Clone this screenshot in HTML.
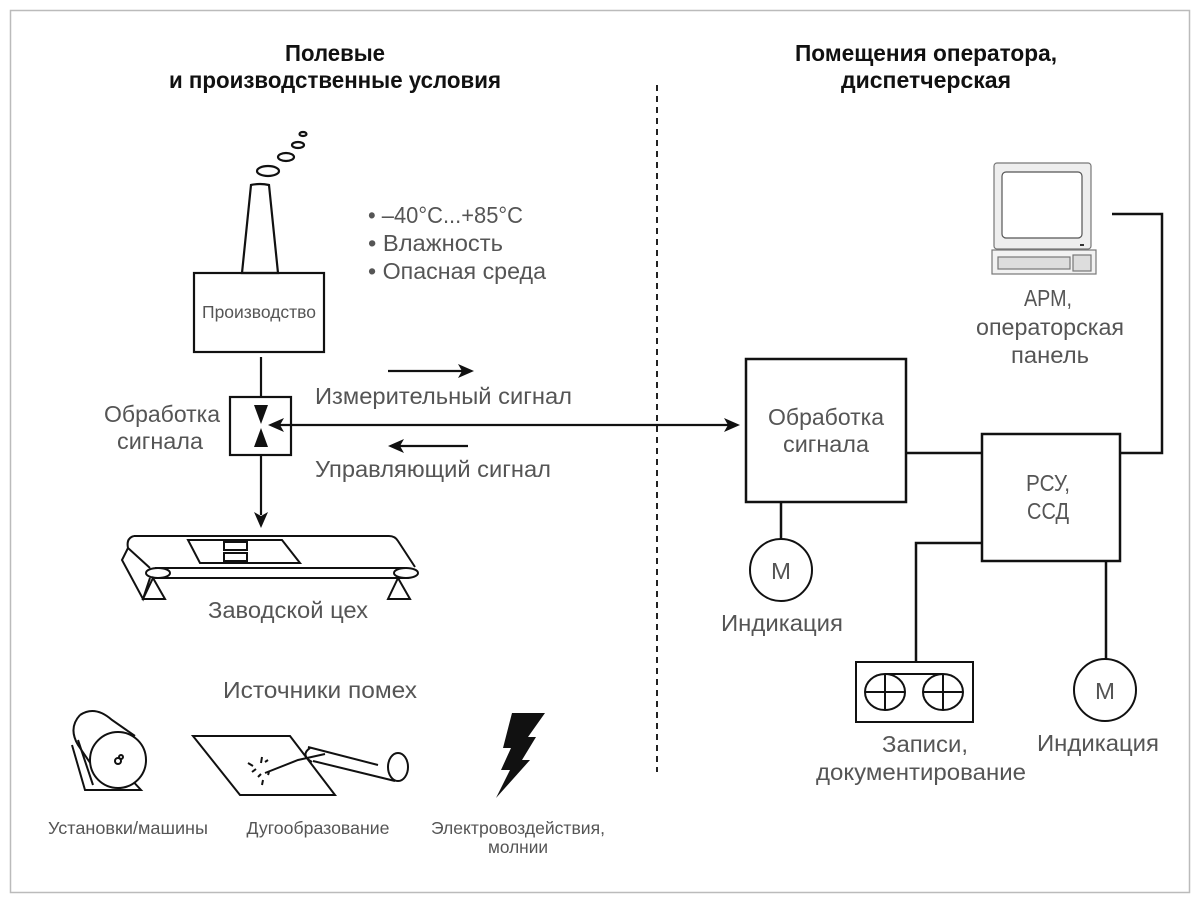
<!DOCTYPE html>
<html><head><meta charset="utf-8"><style>
html,body{margin:0;padding:0;background:#fff;}
svg{display:block;}
text{font-family:"Liberation Sans","DejaVu Sans",sans-serif;fill:#555;}
.h{fill:#111;font-weight:bold;font-size:23px;}
</style></head><body>
<svg width="1200" height="903" viewBox="0 0 1200 903" xmlns="http://www.w3.org/2000/svg">
<rect x="10.5" y="10.5" width="1179" height="882" fill="none" stroke="#bbb" stroke-width="1.5"/>
<g text-anchor="middle">
<text class="h" x="335" y="61" textLength="100" lengthAdjust="spacingAndGlyphs">Полевые</text>
<text class="h" x="335" y="88" textLength="332" lengthAdjust="spacingAndGlyphs">и производственные условия</text>
<text class="h" x="926" y="61" textLength="262" lengthAdjust="spacingAndGlyphs">Помещения оператора,</text>
<text class="h" x="926" y="88" textLength="170" lengthAdjust="spacingAndGlyphs">диспетчерская</text>
</g>
<line x1="657" y1="85" x2="657" y2="772" stroke="#222" stroke-width="2" stroke-dasharray="6,5"/>
<g fill="none" stroke="#111" stroke-width="2.2">
<ellipse cx="268" cy="171" rx="11" ry="5"/>
<ellipse cx="286" cy="157" rx="8" ry="4"/>
<ellipse cx="298" cy="145" rx="6" ry="3"/>
<ellipse cx="303" cy="134" rx="3.5" ry="2"/>
<path d="M251 185 Q260 183 269 185 L278 273 L242 273 Z"/>
<rect x="194" y="273" width="130" height="79"/>
<line x1="261" y1="357" x2="261" y2="397"/>
<rect x="230" y="397" width="61" height="58"/>
<line x1="261" y1="455" x2="261" y2="515"/>
<line x1="274" y1="425" x2="728" y2="425"/>
<line x1="388" y1="371" x2="462" y2="371"/>
<line x1="398" y1="446" x2="468" y2="446"/>
</g>
<g fill="#111">
<path d="M254 405 L268 405 L261 424 Z"/>
<path d="M261 428 L268 447 L254 447 Z"/>
<path d="M268 425 L284 418 L280 425 L284 432 Z"/>
<path d="M261 528 L254 512 L261 516 L268 512 Z"/>
<path d="M740 425 L724 418 L728 425 L724 432 Z"/>
<path d="M474 371 L458 364 L462 371 L458 378 Z"/>
<path d="M388 446 L404 439 L400 446 L404 453 Z"/>
</g>
<text x="259" y="318" text-anchor="middle" font-size="17.5" textLength="114" lengthAdjust="spacingAndGlyphs">Производство</text>
<text x="220" y="422" text-anchor="end" font-size="23" textLength="116" lengthAdjust="spacingAndGlyphs">Обработка</text>
<text x="203" y="449" text-anchor="end" font-size="23" textLength="86" lengthAdjust="spacingAndGlyphs">сигнала</text>
<text x="315" y="404" font-size="23" textLength="257" lengthAdjust="spacingAndGlyphs">Измерительный сигнал</text>
<text x="315" y="477" font-size="23" textLength="236" lengthAdjust="spacingAndGlyphs">Управляющий сигнал</text>
<text x="368" y="223" font-size="23" textLength="155" lengthAdjust="spacingAndGlyphs">• –40°C...+85°C</text>
<text x="368" y="251" font-size="23" textLength="135" lengthAdjust="spacingAndGlyphs">• Влажность</text>
<text x="368" y="279" font-size="23" textLength="178" lengthAdjust="spacingAndGlyphs">• Опасная среда</text>
<!-- conveyor -->
<g fill="none" stroke="#111" stroke-width="2">
<path d="M134 536 L389 536 Q395 536 398 541 L415 567"/>
<path d="M134 536 Q126 538 128 548 L150 568"/>
<line x1="155" y1="568" x2="405" y2="568"/>
<line x1="155" y1="578" x2="405" y2="578"/>
<ellipse cx="158" cy="573" rx="12" ry="5"/>
<ellipse cx="406" cy="573" rx="12" ry="5"/>
<path d="M128 548 L122 560 L143 599 L150 578"/>
<path d="M153 578 L143 599 L165 599 Z"/>
<path d="M398 578 L388 599 L410 599 Z"/>
<path d="M188 540 L282 540 L300 563 L200 563 Z"/>
<rect x="224" y="542" width="23" height="8"/>
<rect x="224" y="553" width="23" height="8"/>
</g>
<text x="288" y="618" text-anchor="middle" font-size="23" textLength="160" lengthAdjust="spacingAndGlyphs">Заводской цех</text>
<text x="320" y="698" text-anchor="middle" font-size="23" textLength="194" lengthAdjust="spacingAndGlyphs">Источники помех</text>
<!-- machine -->
<g fill="none" stroke="#111" stroke-width="2">
<path d="M72 745 L85 790 L141 790 L128 776"/>
<path d="M78 740 L93 785"/>
<path d="M80 715 Q95 705 112 720 L135 736"/>
<path d="M80 715 Q68 728 78 745 L95 770"/>
<circle cx="118" cy="760" r="28" fill="#fff"/>
<circle cx="118" cy="761" r="3"/>
<circle cx="121" cy="757" r="2"/>
<!-- weld -->
<path d="M193 736 L290 736 L335 795 L240 795 Z"/>
<path d="M265 773 L298 760 L325 754"/>
<path d="M308 747 L378 765 M313 761 L395 781"/>
<path d="M310 748 Q300 755 312 762"/>
<ellipse cx="398" cy="767" rx="10" ry="14"/>
<path d="M248 763 L253 766 M252 772 L256 769 M258 777 L261 774 M261 763 L262 757 M265 762 L268 760 M262 785 L263 780 M268 775 L269 772"/>
</g>
<path fill="#111" d="M512 713 L545 713 L528 737 L536 737 L522 760 L530 760 L496 798 L510 770 L501 770 L511 748 L503 748 Z"/>
<g text-anchor="middle" font-size="17.5">
<text x="128" y="834" textLength="160" lengthAdjust="spacingAndGlyphs">Установки/машины</text>
<text x="318" y="834" textLength="143" lengthAdjust="spacingAndGlyphs">Дугообразование</text>
<text x="518" y="834" textLength="174" lengthAdjust="spacingAndGlyphs">Электровоздействия,</text>
<text x="518" y="853" textLength="60" lengthAdjust="spacingAndGlyphs">молнии</text>
</g>
<!-- right side -->
<g fill="none" stroke="#111" stroke-width="2.5">
<rect x="746" y="359" width="160" height="143"/>
<rect x="982" y="434" width="138" height="127"/>
<line x1="906" y1="453" x2="982" y2="453"/>
<path d="M1120 453 L1162 453 L1162 214 L1112 214"/>
<path d="M982 543 L916 543 L916 662"/>
<line x1="1106" y1="561" x2="1106" y2="659"/>
<line x1="781" y1="502" x2="781" y2="539"/>
</g>
<g fill="none" stroke="#111" stroke-width="2">
<circle cx="781" cy="570" r="31"/>
<circle cx="1105" cy="690" r="31"/>
<rect x="856" y="662" width="117" height="60"/>
<ellipse cx="885" cy="692" rx="20" ry="18"/>
<ellipse cx="943" cy="692" rx="20" ry="18"/>
<path d="M865 692 L905 692 M885 674 L885 710 M923 692 L963 692 M943 674 L943 710 M885 674 L943 674"/>
</g>
<!-- computer -->
<g stroke="#777" stroke-width="1.2">
<rect x="994" y="163" width="97" height="86" rx="3" fill="#eee"/>
<rect x="1002" y="172" width="80" height="66" rx="4" fill="#fff" stroke="#555"/>
<rect x="992" y="250" width="104" height="24" fill="#f2f2f2"/>
<rect x="998" y="257" width="72" height="12" fill="#ddd"/>
<rect x="1073" y="255" width="18" height="16" fill="#ddd"/>
</g>
<rect x="1080" y="244" width="4" height="2" fill="#333"/>
<g text-anchor="middle" font-size="23">
<text x="1048" y="306" textLength="48" lengthAdjust="spacingAndGlyphs">АРМ,</text>
<text x="1050" y="335" textLength="148" lengthAdjust="spacingAndGlyphs">операторская</text>
<text x="1050" y="363" textLength="78" lengthAdjust="spacingAndGlyphs">панель</text>
<text x="826" y="425" textLength="116" lengthAdjust="spacingAndGlyphs">Обработка</text>
<text x="826" y="452" textLength="86" lengthAdjust="spacingAndGlyphs">сигнала</text>
<text x="1048" y="491" textLength="44" lengthAdjust="spacingAndGlyphs">РСУ,</text>
<text x="1048" y="519" textLength="42" lengthAdjust="spacingAndGlyphs">ССД</text>
<text x="781" y="579" textLength="20" lengthAdjust="spacingAndGlyphs">М</text>
<text x="1105" y="699" textLength="20" lengthAdjust="spacingAndGlyphs">М</text>
<text x="782" y="631" textLength="122" lengthAdjust="spacingAndGlyphs">Индикация</text>
<text x="1098" y="751" textLength="122" lengthAdjust="spacingAndGlyphs">Индикация</text>
<text x="925" y="752" textLength="86" lengthAdjust="spacingAndGlyphs">Записи,</text>
<text x="921" y="780" textLength="210" lengthAdjust="spacingAndGlyphs">документирование</text>
</g>
</svg>
</body></html>
